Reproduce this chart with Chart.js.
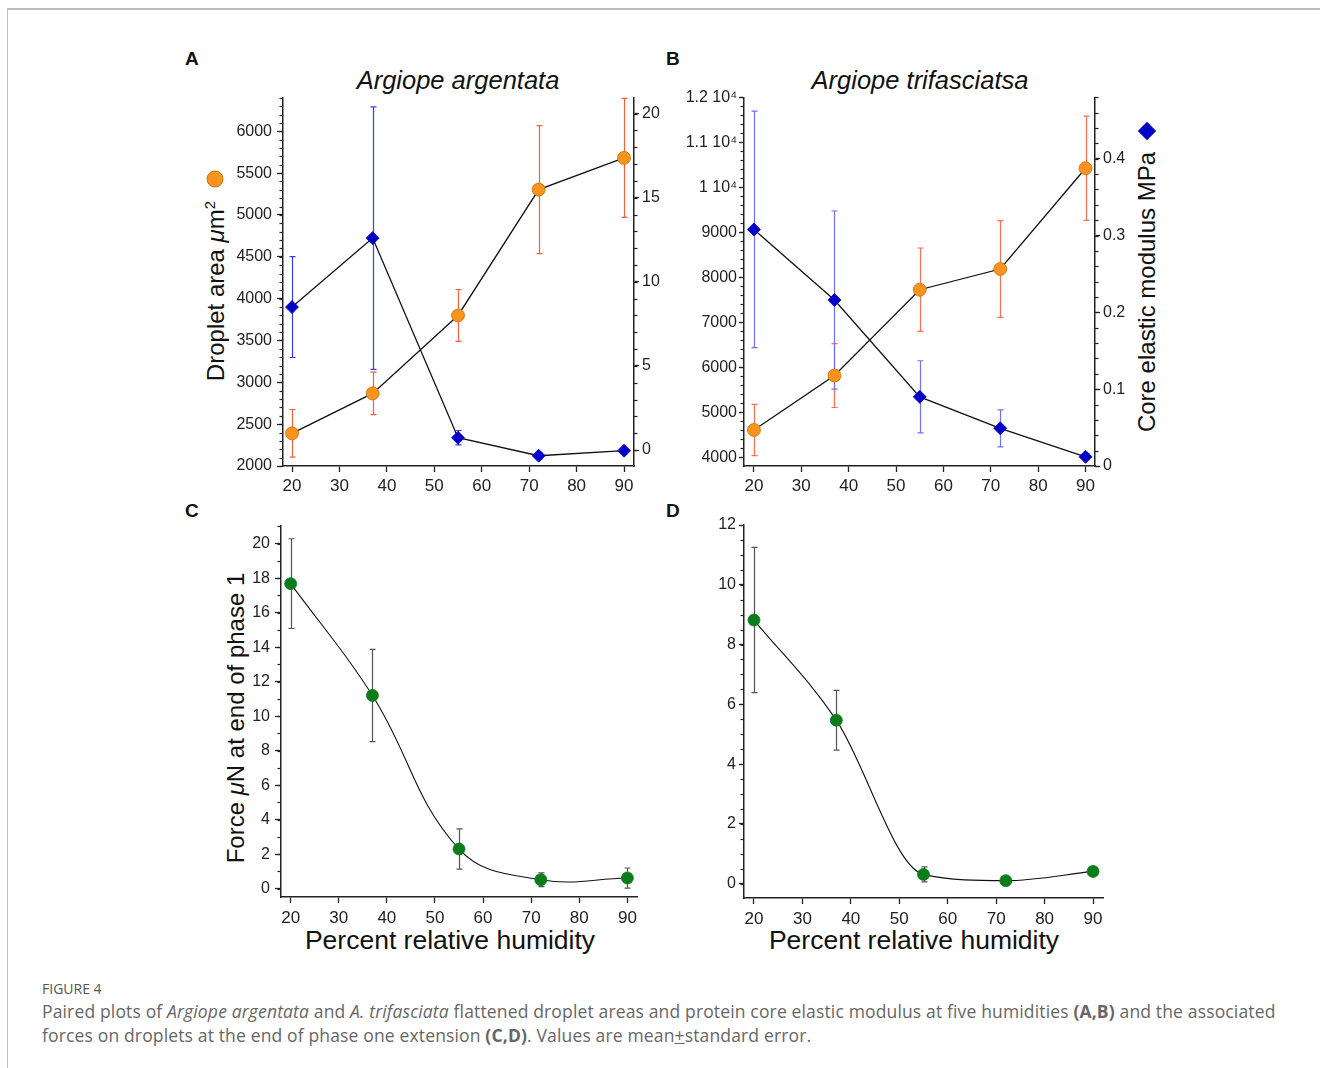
<!DOCTYPE html>
<html>
<head>
<meta charset="utf-8">
<script src="https://cdn.jsdelivr.net/npm/chart.js@4.4.0/dist/chart.umd.min.js"></script>
<style>
  body { margin: 0; width: 1320px; height: 1068px; background: #fff; position: relative; overflow: hidden;
         font-family: 'Liberation Sans', Arial, sans-serif; color: #111; }
  .frame { position: absolute; left: 7px; top: 8px; right: -10px; bottom: -10px;
           border-top: 2px solid #bcbcbc; border-left: 1px solid #bcbcbc; }
  canvas { position: absolute; }
  .letter { position: absolute; font-weight: bold; font-size: 19px; }
  .title { position: absolute; font-style: italic; font-size: 25.5px; white-space: nowrap; transform: translate(-50%, -50%); }
  .ytitle { position: absolute; font-size: 24px; white-space: nowrap; transform: translate(-50%, -50%) rotate(-90deg); }
  .xtitle { position: absolute; font-size: 26.5px; white-space: nowrap; transform: translate(-50%, -50%); }
  .dot { position: absolute; width: 15px; height: 15px; border-radius: 50%; background: #f7931e; border: 1px solid #c8730f; transform: translate(-50%, -50%); }
  .diamond { position: absolute; width: 13px; height: 13px; background: #0000c8; transform: translate(-50%, -50%) rotate(45deg); }
  .caption { position: absolute; left: 42px; top: 999px; font-family: 'Open Sans', Lato, sans-serif; font-size: 17.5px;
             letter-spacing: 0.15px; line-height: 24px; color: #666; white-space: nowrap; }
  .fig { position: absolute; left: 42px; top: 979px; font-family: 'Open Sans', Lato, sans-serif; font-size: 14px;
         color: #555; }
</style>
</head>
<body>
<div class="frame"></div>

<div class="letter" style="left:185px; top:48px;">A</div>
<div class="letter" style="left:666px; top:48px;">B</div>
<div class="letter" style="left:185px; top:500px;">C</div>
<div class="letter" style="left:666px; top:500px;">D</div>

<div class="title" style="left:458px; top:80px;">Argiope argentata</div>
<div class="title" style="left:920px; top:80px;">Argiope trifasciatsa</div>

<div class="ytitle" style="left:215px; top:291px;">Droplet area <i>μ</i>m<sup style="font-size:15px">2</sup></div>
<div class="dot" style="left:215px; top:179px;"></div>
<div class="ytitle" style="left:1147px; top:292px;">Core elastic modulus MPa</div>
<div class="diamond" style="left:1147px; top:131px;"></div>
<div class="ytitle" style="left:236px; top:718px;">Force <i>μ</i>N at end of phase 1</div>
<div class="xtitle" style="left:450px; top:940px;">Percent relative humidity</div>
<div class="xtitle" style="left:914px; top:940px;">Percent relative humidity</div>

<canvas id="chartA" width="500" height="410" style="left:180px; top:90px;"></canvas>
<canvas id="chartB" width="520" height="410" style="left:660px; top:90px;"></canvas>
<canvas id="chartC" width="480" height="415" style="left:180px; top:515px;"></canvas>
<canvas id="chartD" width="480" height="415" style="left:660px; top:515px;"></canvas>

<div class="fig">FIGURE 4</div>
<div class="caption">Paired plots of <i>Argiope argentata</i> and <i>A. trifasciata</i> flattened droplet areas and protein core elastic modulus at five humidities <b>(A,B)</b> and the associated<br>forces on droplets at the end of phase one extension <b>(C,D)</b>. Values are mean<u>+</u>standard error.</div>

<script>
// humidity levels (x)
const humidity = [20, 37, 55, 72, 90];

// A - Argiope argentata
const areaA = [2390, 2868, 3799, 5303, 5682];
const areaErrA = [285, 255, 310, 765, 710];
const modA = [8.5, 12.6, 0.73, -0.34, -0.04];
const modErrA = [3.0, 7.8, 0.43, 0.2, 0.1];

// B - Argiope trifasciata
const areaB = [4608, 5817, 7724, 8184, 10424];
const areaErrB = [570, 710, 927, 1075, 1158];
const modB = [0.308, 0.216, 0.090, 0.049, 0.012];
const modErrB = [0.154, 0.116, 0.047, 0.024, 0.004];

// C, D - force at end of phase 1
const forceC = [17.68, 11.2, 2.3, 0.52, 0.62];
const forceErrC = [2.6, 2.67, 1.17, 0.4, 0.58];
const forceD = [8.82, 5.47, 0.31, 0.10, 0.41];
const forceErrD = [2.43, 1.0, 0.25, 0, 0];

// tick labels
const xTicks = [20, 30, 40, 50, 60, 70, 80, 90];
const ticksAreaA = [2000, 2500, 3000, 3500, 4000, 4500, 5000, 5500, 6000];
const ticksModA = [0, 5, 10, 15, 20];
const ticksAreaB = [4000, 5000, 6000, 7000, 8000, 9000, 10000, 11000, 12000];
const ticksModB = [0, 0.1, 0.2, 0.3, 0.4];
const ticksForceC = [0, 2, 4, 6, 8, 10, 12, 14, 16, 18, 20];
const ticksForceD = [0, 2, 4, 6, 8, 10, 12];

const INK = '#222';
const yFont = { family: "'Liberation Sans', Arial, sans-serif", size: 16 };
const xFont = { family: "'Liberation Sans', Arial, sans-serif", size: 17 };

function pts(ys) {
    return humidity.map((h, i) => ({ x: h, y: ys[i] }));
}

// short minor ticks drawn off the library's scales
function minorTicks(list) {
    return {
        id: 'minorTicks',
        afterDraw(chart) {
            const ctx = chart.ctx;
            ctx.save();
            ctx.strokeStyle = INK;
            ctx.lineWidth = 1.2;
            list.forEach(([id, step]) => {
                const s = chart.scales[id];
                const left = s.position === 'left';
                const x0 = left ? s.right : s.left;
                const len = left ? -3.5 : 3.5;
                for (let k = Math.ceil(s.min / step - 1e-9); k * step <= s.max + 1e-9; k++) {
                    const y = Math.round(s.getPixelForValue(k * step)) + 0.5;
                    ctx.beginPath();
                    ctx.moveTo(x0, y);
                    ctx.lineTo(x0 + len, y);
                    ctx.stroke();
                }
            });
            ctx.restore();
        },
    };
}

// vertical error bars with caps
function errorBars(sets) {
    return {
        id: 'errorBars',
        beforeDatasetsDraw(chart) {
            const ctx = chart.ctx;
            sets.forEach(set => {
                const meta = chart.getDatasetMeta(set.ds);
                const ys = chart.scales[meta.yAxisID];
                const data = chart.data.datasets[set.ds].data;
                ctx.save();
                ctx.strokeStyle = set.color;
                ctx.lineWidth = 1.2;
                meta.data.forEach((p, i) => {
                    const e = set.err[i];
                    if (!e) return;
                    const x = Math.round(p.x) + 0.5;
                    const t = ys.getPixelForValue(data[i].y + e);
                    const b = ys.getPixelForValue(data[i].y - e);
                    ctx.beginPath();
                    ctx.moveTo(x, t); ctx.lineTo(x, b);
                    ctx.moveTo(x - 3, t); ctx.lineTo(x + 3, t);
                    ctx.moveTo(x - 3, b); ctx.lineTo(x + 3, b);
                    ctx.stroke();
                });
                ctx.restore();
            });
        },
    };
}

function xScale(min, max, height, pad) {
    return {
        type: 'linear', min: min, max: max,
        afterBuildTicks: s => { s.ticks = xTicks.map(v => ({ value: v })); },
        afterFit: s => { s.height = height; s.paddingLeft = 0; s.paddingRight = 0; },
        ticks: { font: xFont, color: INK, padding: pad, maxRotation: 0, autoSkip: false },
        grid: { drawOnChartArea: false, tickLength: 6, tickColor: INK, tickWidth: 1.3 },
        border: { color: INK, width: 1.5 },
    };
}

function yScale(pos, min, max, values, width, pad, tl, fmt) {
    return {
        type: 'linear', position: pos, min: min, max: max,
        afterBuildTicks: s => { s.ticks = values.map(v => ({ value: v })); },
        afterFit: s => { s.width = width; s.paddingTop = 0; s.paddingBottom = 0; },
        ticks: { font: yFont, color: INK, padding: pad, autoSkip: false, callback: fmt || (v => String(v)) },
        grid: { drawOnChartArea: false, tickLength: tl, tickColor: INK, tickWidth: 1.3 },
        border: { color: INK, width: 1.5 },
    };
}

const baseOptions = {
    responsive: false,
    animation: false,
    plugins: { legend: { display: false }, tooltip: { enabled: false } },
};

function lineSet(data, axis, style, fill, border, radius, extra) {
    return Object.assign({
        data: data,
        yAxisID: axis,
        showLine: true,
        borderColor: '#111',
        borderWidth: 1.3,
        tension: 0,
        pointStyle: style,
        pointRadius: radius,
        pointBackgroundColor: fill,
        pointBorderColor: border,
        pointBorderWidth: 0.8,
    }, extra || {});
}

// Panel A
new Chart(document.getElementById('chartA'), {
    type: 'scatter',
    data: {
        datasets: [
            lineSet(pts(areaA), 'y', 'circle', '#f7931e', '#c8730f', 6.5),
            lineSet(pts(modA), 'y2', 'rectRot', '#0000c8', '#0000c8', 6.5),
        ],
    },
    options: Object.assign({}, baseOptions, {
        layout: { padding: { top: 7, left: 0, right: 0, bottom: 0 } },
        scales: {
            x: xScale(18.1, 92.1, 34, 4),
            y: yScale('left', 2000, 6406, ticksAreaA, 103, 5, 6),
            y2: yScale('right', -0.95, 20.97, ticksModA, 46, 3, 5),
        },
    }),
    plugins: [
        errorBars([{ ds: 0, err: areaErrA, color: '#f4603e' }, { ds: 1, err: modErrA, color: '#3a3aff' }]),
        minorTicks([['y', 100], ['y2', 1]]),
    ],
});

// Panel B
new Chart(document.getElementById('chartB'), {
    type: 'scatter',
    data: {
        datasets: [
            lineSet(pts(areaB), 'y', 'circle', '#f7931e', '#c8730f', 6.5),
            lineSet(pts(modB), 'y2', 'rectRot', '#0000c8', '#0000c8', 6.5),
        ],
    },
    options: Object.assign({}, baseOptions, {
        layout: { padding: { top: 7, left: 0, right: 0, bottom: 0 } },
        scales: {
            x: xScale(17.9, 92.0, 34, 4),
            y: yScale('left', 3807, 12000, ticksAreaB, 84, 2, 5,
                v => v >= 10000 ? (v / 10000) + ' 10\u2074' : String(v)),
            y2: yScale('right', 0, 0.48, ticksModB, 85, 3, 5,
                v => v === 0 ? '0' : v.toFixed(1)),
        },
    }),
    plugins: [
        errorBars([{ ds: 0, err: areaErrB, color: '#ff6f4f' }, { ds: 1, err: modErrB, color: '#7070ff' }]),
        minorTicks([['y', 200], ['y2', 0.02]]),
    ],
});

// Panel C
new Chart(document.getElementById('chartC'), {
    type: 'scatter',
    data: {
        datasets: [
            lineSet(pts(forceC), 'y', 'circle', '#0a7d1a', '#0a7d1a', 6, { tension: 0.4, borderWidth: 1.1 }),
        ],
    },
    options: Object.assign({}, baseOptions, {
        layout: { padding: { top: 11, left: 0, right: 23, bottom: 0 } },
        scales: {
            x: xScale(17.99, 92.0, 33, 5),
            y: yScale('left', -0.48, 21.02, ticksForceC, 101, 5, 6),
        },
    }),
    plugins: [
        errorBars([{ ds: 0, err: forceErrC, color: '#555' }]),
        minorTicks([['y', 1]]),
    ],
});

// Panel D
new Chart(document.getElementById('chartD'), {
    type: 'scatter',
    data: {
        datasets: [
            lineSet(pts(forceD), 'y', 'circle', '#0a7d1a', '#0a7d1a', 6, { cubicInterpolationMode: 'monotone', borderWidth: 1.1 }),
        ],
    },
    options: Object.assign({}, baseOptions, {
        layout: { padding: { top: 10, left: 0, right: 37, bottom: 0 } },
        scales: {
            x: xScale(17.94, 92.06, 32, 5),
            y: yScale('left', -0.48, 12, ticksForceD, 84, 3, 5),
        },
    }),
    plugins: [
        errorBars([{ ds: 0, err: forceErrD, color: '#555' }]),
        minorTicks([['y', 0.5]]),
    ],
});
</script>
</body>
</html>
